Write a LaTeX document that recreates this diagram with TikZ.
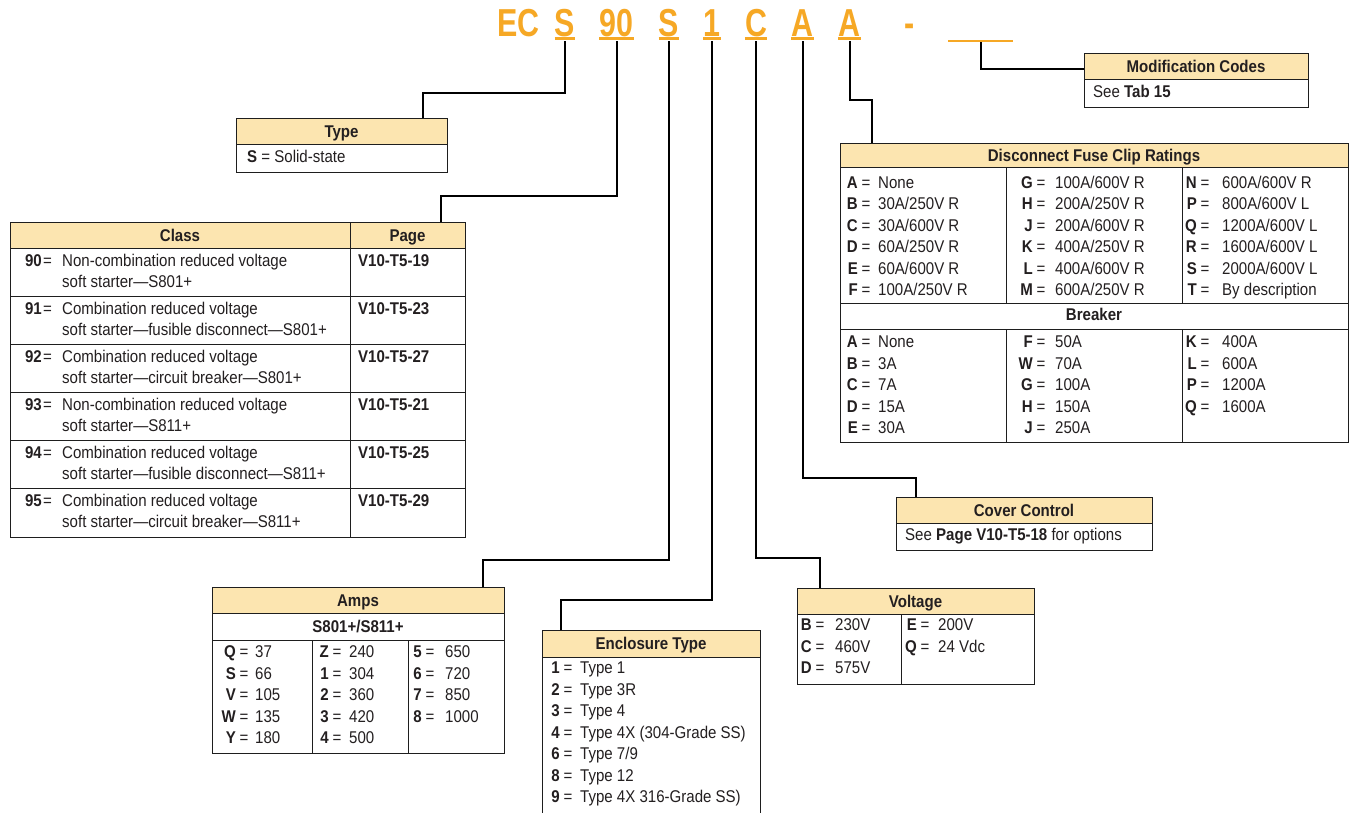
\documentclass[tikz,border=0pt]{standalone}
\usepackage{fontspec}
\setmainfont{Liberation Sans}[FakeStretch=0.885]
\newfontfamily\codefont{Liberation Sans}[FakeStretch=0.78]
\usetikzlibrary{calc}
\definecolor{codeor}{RGB}{246,168,37}
\definecolor{hdrfill}{RGB}{252,229,176}
\definecolor{framecol}{RGB}{30,30,30}
\definecolor{ink}{RGB}{35,31,32}
\tikzset{
  frame/.style={draw=framecol, line width=1pt},
  conn/.style={draw=black, line width=2pt},
  txt/.style={anchor=base west, inner sep=0pt, text=ink},
  hdtext/.style={anchor=base, inner sep=0pt, text=ink},
  code/.style={anchor=base, inner sep=0pt, text=codeor, font=\codefont\bfseries\fontsize{39}{40}\selectfont},
  boxnode/.style={anchor=north west, inner sep=0pt, outer sep=0pt}
}
% name, x, y, width, height, header height
\newcommand\tbox[6]{%
  \node[boxnode, minimum width=#4, minimum height=#5] (#1) at (#2,#3) {};
  \fill[hdrfill] (#1.north west) rectangle ($(#1.north east)+(0,#6)$);
  \draw[frame] (#1.north west) rectangle (#1.south east);
  \draw[frame] ($(#1.north west)+(0,#6)$) -- ($(#1.north east)+(0,#6)$);
}
% key right edge, value x, baseline y, key, value
\newcommand\kvx[6]{%
  \node[anchor=base east, inner sep=0pt, text=ink] at (#1,#3) {\textbf{#4}};
  \node[anchor=base west, inner sep=0pt, text=ink] at ({#1+#6},#3) {=};
  \node[anchor=base west, inner sep=0pt, text=ink] at (#2,#3) {#5};
}
\newcommand\kv[5]{\kvx{#1}{#2}{#3}{#4}{#5}{3.5}}
% class row: index, number, line1, line2, page
\newcommand\crow[5]{%
  \pgfmathsetmacro\rt{248+48*#1}
  \kvx{42}{62}{\rt+18.5}{#2}{#3}{1}
  \node[txt] at (62,\rt+39.5) {#4};
  \node[txt] at (358,\rt+18.5) {\textbf{#5}};
}
\begin{document}
\begin{tikzpicture}[x=1pt, y=-1pt, font=\fontsize{17}{20}\selectfont]
\useasboundingbox (0,0) rectangle (1350,812);
\clip (0,0) rectangle (1350,812);
\fill[white] (0,0) rectangle (1350,812);

% ---------- catalog code ----------
\node[code] (cEC) at (518.5,36) {EC};
\node[code] (cS) at (565,36) {S};
\node[code] (c90) at (616.5,36) {90};
\node[code] (cS2) at (669,36) {S};
\node[code] (c1) at (712,36) {1};
\node[code] (cC) at (756,36) {C};
\node[code] (cA) at (802.5,36) {A};
\node[code] (cA2) at (849.5,36) {A};
\node[code] (cdash) at (909.5,36) {-};
\node[inner sep=0pt, minimum width=65, minimum height=2.5, fill=codeor] (cblank) at (980.5,41) {};
\foreach \n in {cS,c90,cS2,c1,cC,cA,cA2}
  \draw[codeor, line width=2.2pt] ($(\n.base west)+(0,2.5)$) -- ($(\n.base east)+(0,2.5)$);
\foreach \n in {cS,c90,cS2,c1,cC,cA,cA2}
  \coordinate (t\n) at ($(\n.base)+(0,5)$);
\coordinate (tcblank) at (cblank.south);

% ---------- Modification Codes ----------
\tbox{modbox}{1084}{53}{224}{54}{26}
\node[hdtext] at (1196,72) {\textbf{Modification Codes}};
\node[txt] at (1093,97.5) {See \textbf{Tab 15}};
\coordinate (jMod) at (1084,69);
\draw[conn] (tcblank) |- (jMod);

% ---------- Type ----------
\tbox{typebox}{236}{118}{211}{54}{26}
\node[hdtext] at (341.5,137) {\textbf{Type}};
\node[txt] at (247,162.5) {\textbf{S} = Solid-state};
\coordinate (jType) at (423,93);
\draw[conn] (tcS) |- (jType) -- (jType |- typebox.north);

% ---------- Class ----------
\tbox{classbox}{10}{222}{455}{315}{26}
\draw[frame] (350,222) -- (350,537);
\foreach \yy in {296,344,392,440,488} \draw[frame] (10,\yy) -- (465,\yy);
\node[hdtext] at (180,241) {\textbf{Class}};
\node[hdtext] at (407.5,241) {\textbf{Page}};
\crow{0}{90}{Non-combination reduced voltage}{soft starter—S801+}{V10-T5-19}
\crow{1}{91}{Combination reduced voltage}{soft starter—fusible disconnect—S801+}{V10-T5-23}
\crow{2}{92}{Combination reduced voltage}{soft starter—circuit breaker—S801+}{V10-T5-27}
\crow{3}{93}{Non-combination reduced voltage}{soft starter—S811+}{V10-T5-21}
\crow{4}{94}{Combination reduced voltage}{soft starter—fusible disconnect—S811+}{V10-T5-25}
\crow{5}{95}{Combination reduced voltage}{soft starter—circuit breaker—S811+}{V10-T5-29}
\coordinate (jClass) at (441,196);
\draw[conn] (tc90) |- (jClass) -- (jClass |- classbox.north);

% ---------- Disconnect Fuse Clip Ratings ----------
\tbox{discbox}{840}{143}{508}{299}{24}
\draw[frame] (840,303) -- (1348,303);
\draw[frame] (840,329) -- (1348,329);
\foreach \xx in {1006,1182} {
  \draw[frame] (\xx,167) -- (\xx,303);
  \draw[frame] (\xx,329) -- (\xx,442);
}
\node[hdtext] at (1094,161) {\textbf{Disconnect Fuse Clip Ratings}};
\node[hdtext] at (1094,320) {\textbf{Breaker}};
\kv{858}{878}{188}{A}{None}
\kv{858}{878}{209.5}{B}{30A/250V R}
\kv{858}{878}{231}{C}{30A/600V R}
\kv{858}{878}{252.5}{D}{60A/250V R}
\kv{858}{878}{274}{E}{60A/600V R}
\kv{858}{878}{295.5}{F}{100A/250V R}
\kv{1033}{1055}{188}{G}{100A/600V R}
\kv{1033}{1055}{209.5}{H}{200A/250V R}
\kv{1033}{1055}{231}{J}{200A/600V R}
\kv{1033}{1055}{252.5}{K}{400A/250V R}
\kv{1033}{1055}{274}{L}{400A/600V R}
\kv{1033}{1055}{295.5}{M}{600A/250V R}
\kv{1197}{1222}{188}{N}{600A/600V R}
\kv{1197}{1222}{209.5}{P}{800A/600V L}
\kv{1197}{1222}{231}{Q}{1200A/600V L}
\kv{1197}{1222}{252.5}{R}{1600A/600V L}
\kv{1197}{1222}{274}{S}{2000A/600V L}
\kv{1197}{1222}{295.5}{T}{By description}
\kv{858}{878}{347.5}{A}{None}
\kv{858}{878}{369}{B}{3A}
\kv{858}{878}{390.5}{C}{7A}
\kv{858}{878}{412}{D}{15A}
\kv{858}{878}{433.5}{E}{30A}
\kv{1033}{1055}{347.5}{F}{50A}
\kv{1033}{1055}{369}{W}{70A}
\kv{1033}{1055}{390.5}{G}{100A}
\kv{1033}{1055}{412}{H}{150A}
\kv{1033}{1055}{433.5}{J}{250A}
\kv{1197}{1222}{347.5}{K}{400A}
\kv{1197}{1222}{369}{L}{600A}
\kv{1197}{1222}{390.5}{P}{1200A}
\kv{1197}{1222}{412}{Q}{1600A}
\coordinate (jDisc) at (872,100);
\draw[conn] (tcA2) |- (jDisc) -- (jDisc |- discbox.north);

% ---------- Cover Control ----------
\tbox{coverbox}{896}{497}{256}{53}{26}
\node[hdtext] at (1024,516) {\textbf{Cover Control}};
\node[txt] at (905,540.5) {See \textbf{Page V10-T5-18} for options};
\coordinate (jCover) at (916,478);
\draw[conn] (tcA) |- (jCover) -- (jCover |- coverbox.north);

% ---------- Voltage ----------
\tbox{voltbox}{797}{588}{237}{96}{26}
\draw[frame] (901,614) -- (901,684);
\node[hdtext] at (915.5,607) {\textbf{Voltage}};
\kv{812}{835}{630.5}{B}{230V}
\kv{812}{835}{652}{C}{460V}
\kv{812}{835}{673.5}{D}{575V}
\kv{917}{938}{630.5}{E}{200V}
\kv{917}{938}{652}{Q}{24 Vdc}
\coordinate (jVolt) at (820,558);
\draw[conn] (tcC) |- (jVolt) -- (jVolt |- voltbox.north);

% ---------- Amps ----------
\tbox{ampsbox}{212}{587}{292}{166}{26}
\draw[frame] (212,640) -- (504,640);
\draw[frame] (312,640) -- (312,753);
\draw[frame] (408,640) -- (408,753);
\node[hdtext] at (358,606) {\textbf{Amps}};
\node[hdtext] at (358,632.5) {\textbf{S801+/S811+}};
\kv{236}{255}{657.5}{Q}{37}
\kv{236}{255}{679}{S}{66}
\kv{236}{255}{700.5}{V}{105}
\kv{236}{255}{722}{W}{135}
\kv{236}{255}{743.5}{Y}{180}
\kv{329}{349}{657.5}{Z}{240}
\kv{329}{349}{679}{1}{304}
\kv{329}{349}{700.5}{2}{360}
\kv{329}{349}{722}{3}{420}
\kv{329}{349}{743.5}{4}{500}
\kv{422}{445}{657.5}{5}{650}
\kv{422}{445}{679}{6}{720}
\kv{422}{445}{700.5}{7}{850}
\kv{422}{445}{722}{8}{1000}
\coordinate (jAmps) at (483,560);
\draw[conn] (tcS2) |- (jAmps) -- (jAmps |- ampsbox.north);

% ---------- Enclosure Type ----------
\tbox{enclbox}{542}{630}{218}{190}{27}
\node[hdtext] at (651,649) {\textbf{Enclosure Type}};
\kv{560}{580}{673.5}{1}{Type 1}
\kv{560}{580}{695}{2}{Type 3R}
\kv{560}{580}{716.5}{3}{Type 4}
\kv{560}{580}{738}{4}{Type 4X (304-Grade SS)}
\kv{560}{580}{759.5}{6}{Type 7/9}
\kv{560}{580}{781}{8}{Type 12}
\kv{560}{580}{802.5}{9}{Type 4X 316-Grade SS)}
\coordinate (jEncl) at (561,600);
\draw[conn] (tc1) |- (jEncl) -- (jEncl |- enclbox.north);
\end{tikzpicture}
\end{document}
